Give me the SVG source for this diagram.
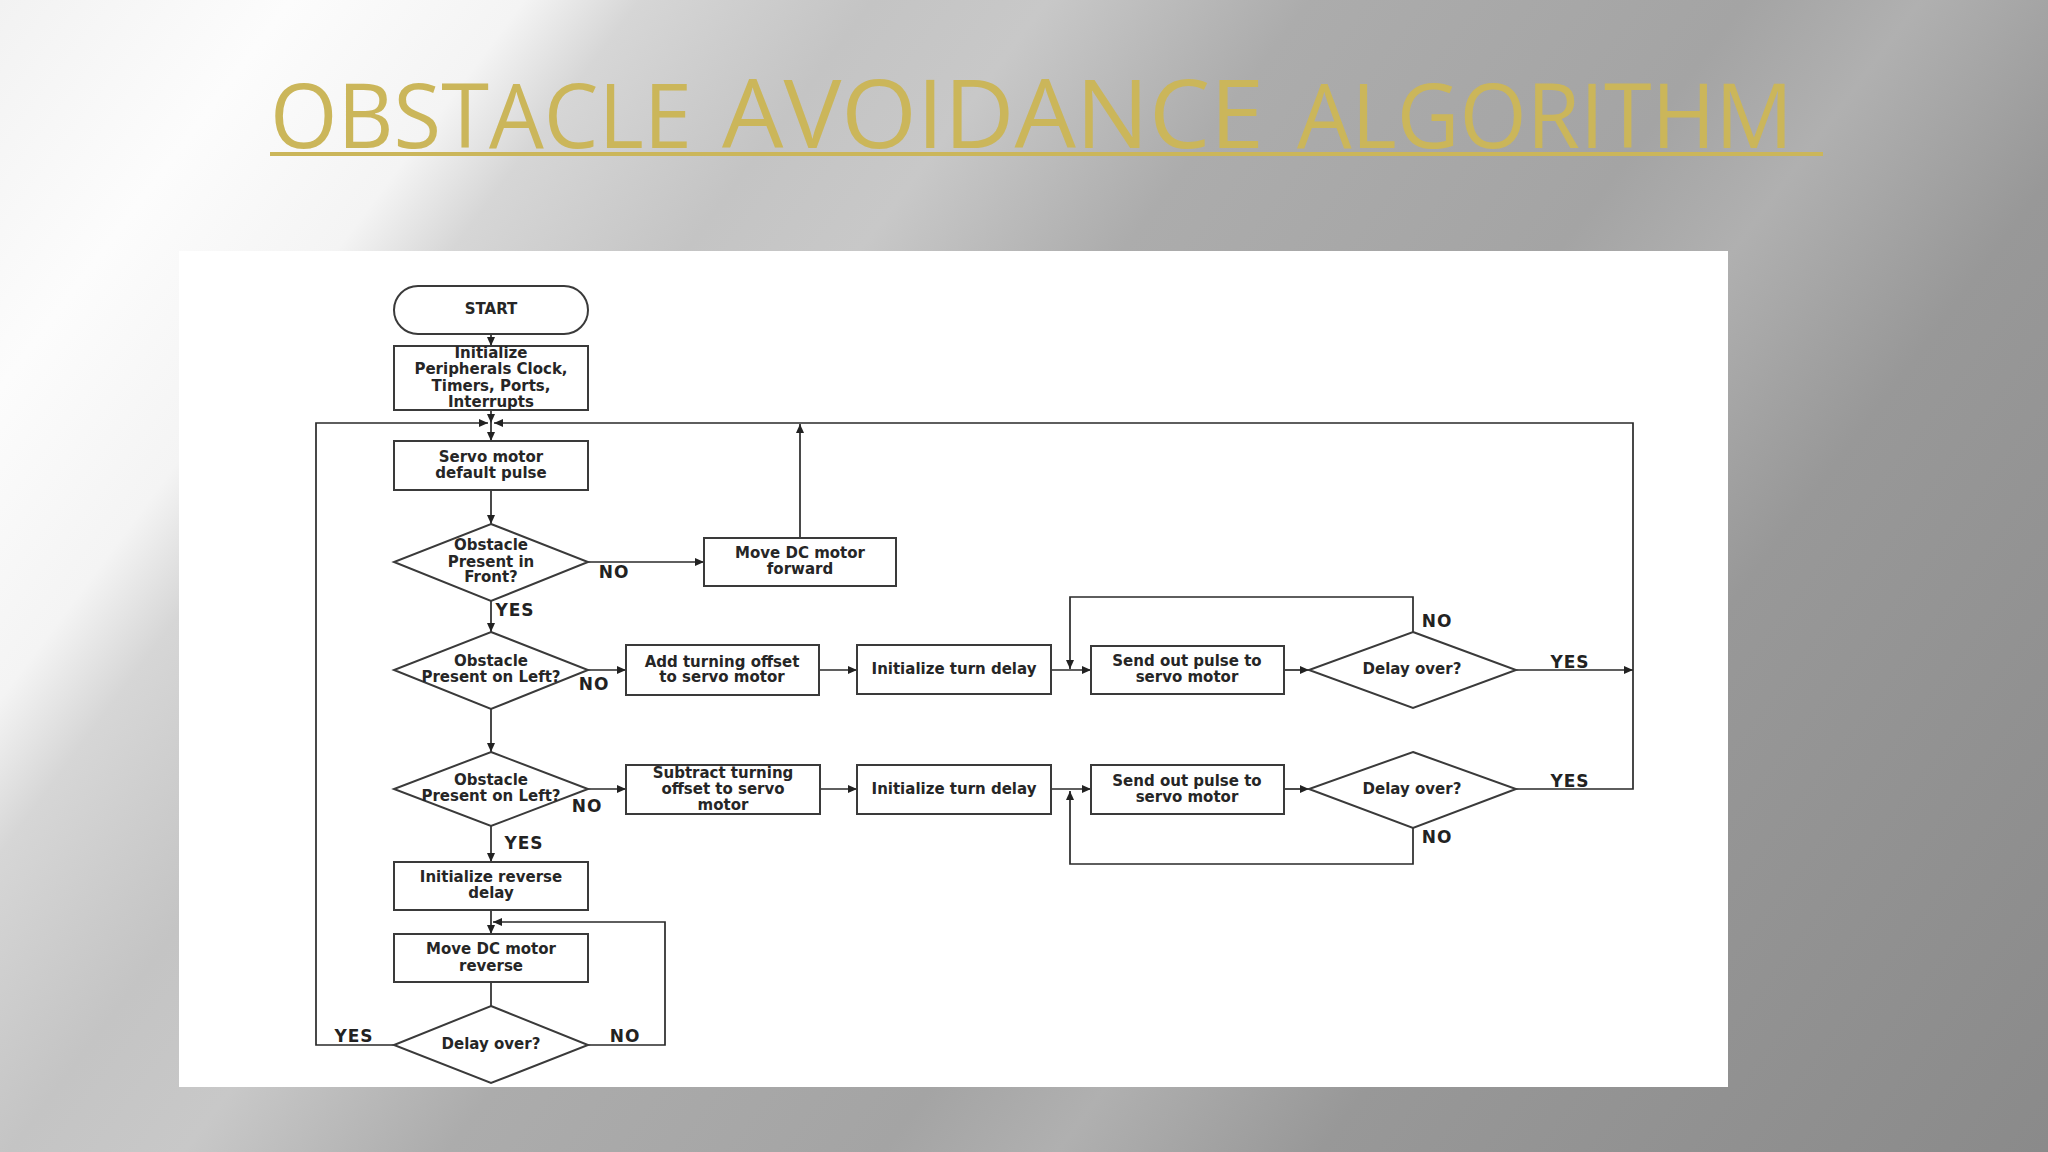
<svg xmlns="http://www.w3.org/2000/svg" width="2048" height="1152" viewBox="0 0 2048 1152">
<defs>
<linearGradient id="bg" gradientUnits="userSpaceOnUse" x1="0" y1="0" x2="1863" y2="1397">
<stop offset="0" stop-color="#f2f2f2"/>
<stop offset="0.1" stop-color="#fcfcfc"/>
<stop offset="0.18" stop-color="#f4f4f4"/>
<stop offset="0.22" stop-color="#d6d6d6"/>
<stop offset="0.3" stop-color="#c4c4c4"/>
<stop offset="0.36" stop-color="#c8c8c8"/>
<stop offset="0.45" stop-color="#acacac"/>
<stop offset="0.6" stop-color="#a4a4a4"/>
<stop offset="0.66" stop-color="#b0b0b0"/>
<stop offset="0.75" stop-color="#989898"/>
<stop offset="1" stop-color="#8a8a8a"/>
</linearGradient>
<marker id="ah" markerUnits="userSpaceOnUse" markerWidth="9" markerHeight="8" refX="9" refY="4" orient="auto">
<path d="M0,0 L9,4 L0,8 z" fill="#222"/>
</marker>
<style>
.box{fill:#fff;stroke:#3a3a3a;stroke-width:2}
.ln{fill:none;stroke:#2a2a2a;stroke-width:1.7}
.arr{marker-end:url(#ah)}
.t{font-family:"DejaVu Sans",sans-serif;font-weight:bold;font-size:15px;fill:#262626;text-anchor:middle;dominant-baseline:central}
.lb{font-family:"DejaVu Sans",sans-serif;font-weight:bold;font-size:17px;letter-spacing:1px;fill:#222;text-anchor:middle}
.title{font-family:"Open Sans","DejaVu Sans",sans-serif;fill:#cbb65a}
</style>
</defs>
<rect x="0" y="0" width="2048" height="1152" fill="url(#bg)"/>
<g id="title">
<text class="title" x="270" y="148" font-size="90" textLength="422" lengthAdjust="spacingAndGlyphs">OBSTACLE</text>
<text class="title" x="722" y="148" font-size="95" textLength="542" lengthAdjust="spacingAndGlyphs">AVOIDANCE</text>
<text class="title" x="1297" y="148" font-size="90" textLength="496" lengthAdjust="spacingAndGlyphs">ALGORITHM</text>
<rect x="270" y="152" width="1553" height="4" fill="#cbb65a"/>
</g>
<rect id="panel" x="179" y="251" width="1549" height="836" fill="#ffffff"/>
<g id="connectors">
<path class="ln arr" d="M491,334 V346"/>
<path class="ln arr" d="M491,410 V423"/>
<path class="ln arr" d="M491,423 V441"/>
<path class="ln arr" d="M394,1045 H316 V423 H488"/>
<path class="ln arr" d="M1516,789 H1633 V423 H494"/>
<path class="ln arr" d="M800,538 V424"/>
<path class="ln arr" d="M588,562 H704"/>
<path class="ln arr" d="M491,490 V524"/>
<path class="ln arr" d="M491,601 V632"/>
<path class="ln arr" d="M588,670 H626"/>
<path class="ln arr" d="M819,670 H857"/>
<path class="ln arr" d="M1051,670 H1091"/>
<path class="ln arr" d="M1284,670 H1309"/>
<path class="ln arr" d="M1413,632 V597 H1070 V669"/>
<path class="ln arr" d="M1516,670 H1633"/>
<path class="ln arr" d="M491,709 V752"/>
<path class="ln arr" d="M588,789 H626"/>
<path class="ln arr" d="M820,789 H857"/>
<path class="ln arr" d="M1051,789 H1091"/>
<path class="ln arr" d="M1284,789 H1309"/>
<path class="ln arr" d="M1413,828 V864 H1070 V791"/>
<path class="ln arr" d="M491,826 V862"/>
<path class="ln arr" d="M491,910 V934"/>
<path class="ln" d="M491,982 V1006"/>
<path class="ln arr" d="M588,1045 H665 V922 H493"/>
<text class="lb" x="614" y="578">NO</text>
<text class="lb" x="515" y="616">YES</text>
<text class="lb" x="594" y="690">NO</text>
<text class="lb" x="587" y="812">NO</text>
<text class="lb" x="524" y="849">YES</text>
<text class="lb" x="354" y="1042">YES</text>
<text class="lb" x="625" y="1042">NO</text>
<text class="lb" x="1437" y="627">NO</text>
<text class="lb" x="1570" y="668">YES</text>
<text class="lb" x="1570" y="787">YES</text>
<text class="lb" x="1437" y="843">NO</text>
</g>
<g id="start">
<rect class="box" x="394" y="286" width="194" height="48" rx="24" ry="24"/>
<text class="t" x="491" y="309">START</text>
</g>
<g id="init">
<rect class="box" x="394" y="346" width="194" height="64"/>
<text class="t" x="491" y="353">Initialize</text>
<text class="t" x="491" y="369">Peripherals Clock,</text>
<text class="t" x="491" y="386">Timers, Ports,</text>
<text class="t" x="491" y="402">Interrupts</text>
</g>
<g id="servo">
<rect class="box" x="394" y="441" width="194" height="49"/>
<text class="t" x="491" y="457">Servo motor</text>
<text class="t" x="491" y="473">default pulse</text>
</g>
<g id="front">
<polygon class="box" points="491,524 588,562 491,601 394,562"/>
<text class="t" x="491" y="545">Obstacle</text>
<text class="t" x="491" y="562">Present in</text>
<text class="t" x="491" y="577">Front?</text>
</g>
<g id="forward">
<rect class="box" x="704" y="538" width="192" height="48"/>
<text class="t" x="800" y="553">Move DC motor</text>
<text class="t" x="800" y="569">forward</text>
</g>
<g id="left1">
<polygon class="box" points="491,632 588,670 491,709 394,670"/>
<text class="t" x="491" y="661">Obstacle</text>
<text class="t" x="491" y="677">Present on Left?</text>
</g>
<g id="addoffset">
<rect class="box" x="626" y="645" width="193" height="50"/>
<text class="t" x="722" y="662">Add turning offset</text>
<text class="t" x="722" y="677">to servo motor</text>
</g>
<g id="turndelay1">
<rect class="box" x="857" y="645" width="194" height="49"/>
<text class="t" x="954" y="669">Initialize turn delay</text>
</g>
<g id="pulse1">
<rect class="box" x="1091" y="646" width="193" height="48"/>
<text class="t" x="1187" y="661">Send out pulse to</text>
<text class="t" x="1187" y="677">servo motor</text>
</g>
<g id="delay1">
<polygon class="box" points="1413,632 1516,670 1413,708 1309,670"/>
<text class="t" x="1412" y="669">Delay over?</text>
</g>
<g id="left2">
<polygon class="box" points="491,752 588,789 491,826 394,789"/>
<text class="t" x="491" y="780">Obstacle</text>
<text class="t" x="491" y="796">Present on Left?</text>
</g>
<g id="suboffset">
<rect class="box" x="626" y="765" width="194" height="49"/>
<text class="t" x="723" y="773">Subtract turning</text>
<text class="t" x="723" y="789">offset to servo</text>
<text class="t" x="723" y="805">motor</text>
</g>
<g id="turndelay2">
<rect class="box" x="857" y="765" width="194" height="49"/>
<text class="t" x="954" y="789">Initialize turn delay</text>
</g>
<g id="pulse2">
<rect class="box" x="1091" y="765" width="193" height="49"/>
<text class="t" x="1187" y="781">Send out pulse to</text>
<text class="t" x="1187" y="797">servo motor</text>
</g>
<g id="delay2">
<polygon class="box" points="1413,752 1516,789 1413,828 1309,789"/>
<text class="t" x="1412" y="789">Delay over?</text>
</g>
<g id="reversedelay">
<rect class="box" x="394" y="862" width="194" height="48"/>
<text class="t" x="491" y="877">Initialize reverse</text>
<text class="t" x="491" y="893">delay</text>
</g>
<g id="reverse">
<rect class="box" x="394" y="934" width="194" height="48"/>
<text class="t" x="491" y="949">Move DC motor</text>
<text class="t" x="491" y="966">reverse</text>
</g>
<g id="delay3">
<polygon class="box" points="491,1006 588,1045 491,1083 394,1045"/>
<text class="t" x="491" y="1044">Delay over?</text>
</g>
</svg>
